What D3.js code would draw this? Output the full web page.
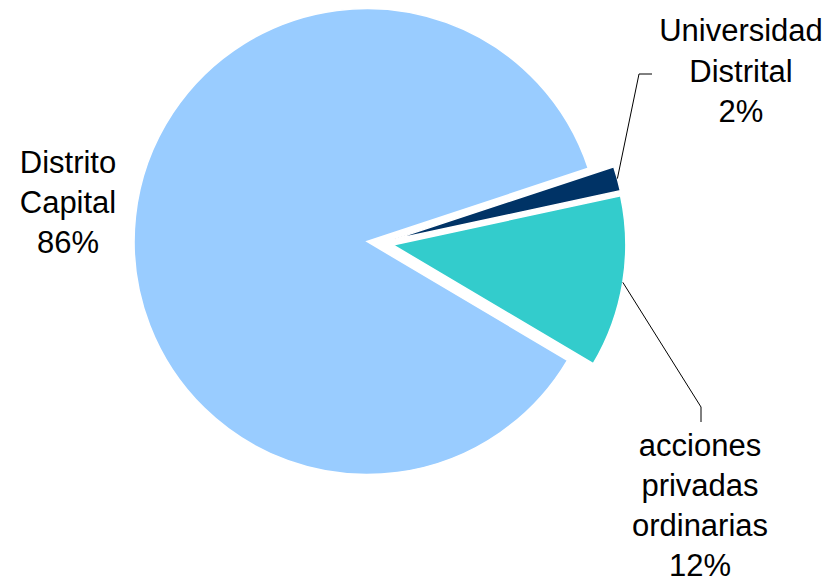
<!DOCTYPE html>
<html>
<head>
<meta charset="utf-8">
<script src="https://cdn.jsdelivr.net/npm/d3@7"></script>
<style>
  html, body { margin: 0; padding: 0; background: #fff; }
  svg { display: block; }
  text { font-family: "Liberation Sans", Arial, sans-serif; }
</style>
</head>
<body>
<div id="chart"></div>
<script>
// ---- data ----
const categories = ["Universidad Distrital", "acciones privadas ordinarias", "Distrito Capital"];
const labelLines = [["Universidad", "Distrital"], ["acciones", "privadas", "ordinarias"], ["Distrito", "Capital"]];
const values = [1.7, 11.9, 86.4];
const colors = ["#003366", "#33CCCC", "#99CCFF"];

// ---- layout (style, not data) ----
const W = 836, H = 583;
const center = [381, 243];
const radius = 233;
const explode = [12, 12, 14];
const startDeg = 71.7;
const labelPos = [
  { x: 741, y: 41, dy: 40.5, leader: [[639, 74], [652, 74]] },
  { x: 700, y: 456, dy: 40, leader: [[701, 407], [701, 422]] },
  { x: 68, y: 173, dy: 40, leader: null }
];

const svg = d3.select("#chart").append("svg").attr("width", W).attr("height", H);

const total = d3.sum(values);
const pie = d3.pie().sort(null).value(d => d)
  .startAngle(startDeg * Math.PI / 180)
  .endAngle(startDeg * Math.PI / 180 + 2 * Math.PI);
const arcs = pie(values);
const arc = d3.arc().innerRadius(0).outerRadius(radius);

const g = svg.append("g").attr("transform", `translate(${center[0]},${center[1]})`);

function offset(d, i) {
  const a = (d.startAngle + d.endAngle) / 2;
  return [Math.sin(a) * explode[i], -Math.cos(a) * explode[i]];
}

g.selectAll("path.slice").data(arcs).join("path")
  .attr("class", "slice")
  .attr("d", arc)
  .attr("fill", (d, i) => colors[i])
  .attr("stroke", "#fff")
  .attr("stroke-width", 1.5)
  .attr("stroke-linejoin", "miter")
  .attr("transform", (d, i) => { const o = offset(d, i); return `translate(${o[0]},${o[1]})`; });

// leader lines
arcs.forEach((d, i) => {
  const lp = labelPos[i];
  if (!lp.leader) return;
  const o = offset(d, i);
  const a = (d.startAngle + d.endAngle) / 2;
  const sx = center[0] + o[0] + Math.sin(a) * radius;
  const sy = center[1] + o[1] - Math.cos(a) * radius;
  const pts = [[sx, sy]].concat(lp.leader);
  svg.append("path")
    .attr("d", d3.line()(pts))
    .attr("fill", "none")
    .attr("stroke", "#000")
    .attr("stroke-width", 1);
});

// labels
const fmt = d3.format(".0%");
arcs.forEach((d, i) => {
  const lp = labelPos[i];
  const lines = labelLines[i].concat([fmt(values[i] / total)]);
  const t = svg.append("text")
    .attr("text-anchor", "middle")
    .attr("font-size", 31)
    .attr("fill", "#000");
  lines.forEach((ln, k) => {
    t.append("tspan").attr("x", lp.x).attr("y", lp.y + k * lp.dy).text(ln);
  });
});
</script>
</body>
</html>
